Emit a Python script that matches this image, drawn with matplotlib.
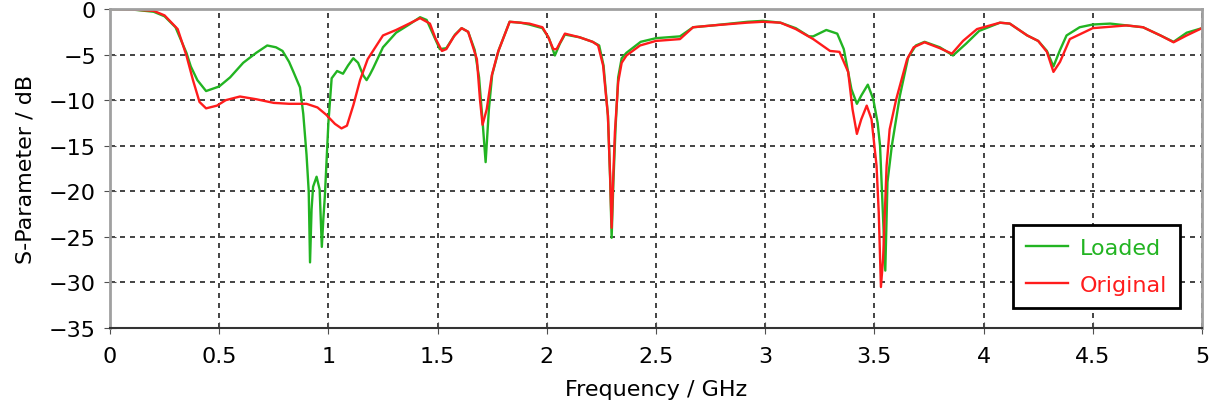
import matplotlib
matplotlib.use("Agg")
import matplotlib.pyplot as plt

# Loaded (green) trace
loaded_f = [0, 0.1, 0.2, 0.25, 0.3, 0.35, 0.37, 0.4, 0.44, 0.5, 0.55, 0.61, 0.67, 0.72,
            0.76, 0.79, 0.82, 0.84, 0.87, 0.885, 0.9, 0.91, 0.916, 0.923, 0.93, 0.946,
            0.96, 0.965, 0.97, 0.977, 0.984, 1.0, 1.015, 1.04, 1.067, 1.09, 1.114, 1.136,
            1.16, 1.175, 1.19, 1.205, 1.25, 1.31, 1.37, 1.42, 1.45, 1.48, 1.51, 1.54,
            1.58, 1.61, 1.64, 1.67, 1.69, 1.705, 1.72, 1.735, 1.75, 1.78, 1.83, 1.88,
            1.92, 1.98, 2.01, 2.037, 2.06, 2.083, 2.15, 2.21, 2.24, 2.26, 2.28, 2.29,
            2.297, 2.305, 2.315, 2.327, 2.343, 2.365, 2.43, 2.5, 2.61, 2.67, 2.76, 2.92,
            2.99, 3.07, 3.14, 3.2, 3.22, 3.28, 3.33, 3.36, 3.395, 3.42, 3.44, 3.47,
            3.495, 3.515, 3.526, 3.54, 3.55, 3.56, 3.58, 3.617, 3.655, 3.69, 3.73, 3.8,
            3.86, 3.92, 3.98, 4.075, 4.12, 4.2, 4.25, 4.29, 4.32, 4.35, 4.38, 4.44,
            4.5, 4.58, 4.655, 4.73, 4.81, 4.87, 4.93, 5.0]
loaded_db = [0, -0.05, -0.3, -0.8, -2.0, -4.8, -6.3, -7.8, -9.0, -8.5, -7.5, -5.9, -4.8, -4.0,
             -4.2, -4.6, -5.8, -6.9, -8.6, -11.5, -16, -20, -27.8, -22, -19.5, -18.4,
             -19.8, -23, -26.1, -23, -20.5, -12.5, -7.6, -6.8, -7.1, -6.2, -5.4, -5.9,
             -7.3, -7.8, -7.2, -6.5, -4.2, -2.6, -1.7, -0.9, -1.2, -2.8, -4.4, -4.3,
             -2.8, -2.1, -2.5, -4.5, -7.5, -12, -16.8, -11, -7.2, -4.5, -1.4, -1.5,
             -1.7, -2.1, -3.2, -5.1, -3.8, -2.8, -3.1, -3.6, -4.0, -6.2, -11.7, -18.5,
             -25.1, -19, -13, -7.5, -5.4, -4.8, -3.6, -3.2, -3.0, -2.0, -1.8, -1.4,
             -1.3, -1.5, -2.1, -3.0, -3.0, -2.3, -2.7, -4.4, -8.8, -10.4, -9.5, -8.3,
             -9.9, -12.5, -15, -23, -28.7, -19, -15, -9.5, -5.3, -4.0, -3.6, -4.2,
             -5.1, -3.8, -2.4, -1.5, -1.6, -2.9, -3.5, -4.6, -6.3, -4.5, -2.9, -2.0,
             -1.7, -1.6, -1.8, -2.0, -2.9, -3.6, -2.6, -2.1]

# Original (red) trace
orig_f = [0, 0.1, 0.2, 0.25, 0.31, 0.35, 0.38, 0.41, 0.44, 0.49, 0.53, 0.595, 0.67, 0.75,
          0.82, 0.9, 0.95, 0.99, 1.03, 1.06, 1.085, 1.115, 1.145, 1.18, 1.25, 1.31, 1.37,
          1.42, 1.465, 1.49, 1.52, 1.54, 1.575, 1.61, 1.64, 1.68, 1.694, 1.706, 1.725,
          1.748, 1.777, 1.83, 1.877, 1.92, 1.98, 2.005, 2.03, 2.045, 2.083, 2.15, 2.21,
          2.235, 2.258, 2.28, 2.29, 2.297, 2.305, 2.312, 2.327, 2.343, 2.365, 2.427, 2.5,
          2.61, 2.67, 2.76, 2.915, 2.99, 3.07, 3.14, 3.22, 3.297, 3.34, 3.38, 3.40, 3.42,
          3.44, 3.465, 3.487, 3.51, 3.52, 3.53, 3.54, 3.556, 3.57, 3.60, 3.65, 3.68,
          3.73, 3.80, 3.855, 3.906, 3.97, 4.075, 4.12, 4.2, 4.25, 4.29, 4.32, 4.35,
          4.395, 4.5, 4.655, 4.73, 4.81, 4.87, 4.93, 5.0]
orig_db = [0, -0.05, -0.2, -0.7, -2.2, -5.1, -7.8, -10.2, -10.9, -10.6, -10.0, -9.6, -9.9, -10.3,
           -10.4, -10.4, -10.8, -11.6, -12.6, -13.1, -12.8, -10.5, -7.8, -5.5, -2.9, -2.3, -1.6,
           -1.0, -1.6, -3.2, -4.6, -4.4, -3.0, -2.1, -2.5, -5.5, -9.9, -12.7, -11.0,
           -7.3, -4.7, -1.4, -1.5, -1.6, -2.0, -3.0, -4.4, -4.4, -2.7, -3.1, -3.6,
           -4.0, -6.2, -11.7, -18.3, -24.0, -18, -13.5, -8.0, -5.9, -5.1, -4.0, -3.5,
           -3.3, -2.0, -1.8, -1.5, -1.4, -1.5, -2.2, -3.3, -4.6, -4.7, -6.9, -11.0, -13.7,
           -12.1, -10.6, -12.1, -17.2, -22.3, -30.5, -27.4, -17.2, -13.2, -9.9, -5.5, -4.2,
           -3.65, -4.3, -4.9, -3.5, -2.2, -1.5, -1.6, -2.9, -3.5, -4.7, -6.9, -5.8,
           -3.3, -2.1, -1.8, -2.0, -2.9, -3.65, -2.9, -2.1]

xticks = [0, 0.5, 1, 1.5, 2, 2.5, 3, 3.5, 4, 4.5, 5]
yticks = [0, -5, -10, -15, -20, -25, -30, -35]

plt.rcParams['font.family'] = 'DejaVu Sans'

fig = plt.figure(figsize=(12.22, 4.14), dpi=100, facecolor='w')
ax = fig.add_axes([0.09, 0.2053, 0.8936, 0.7705])

ax.plot(loaded_f, loaded_db, color='#22b422', lw=1.7, label='Loaded')
ax.plot(orig_f, orig_db, color='#ff1c1c', lw=1.7, label='Original')

ax.set_xlim(0, 5)
ax.set_ylim(-35, 0)
ax.set_xticks(xticks)
ax.set_xticklabels([('%g' % t) for t in xticks])
ax.set_yticks(yticks)
ax.grid(True, color='#222222', ls=(0, (3, 3)), lw=1.2)
for s in ax.spines.values():
    s.set_color('#a0a0a0')
    s.set_linewidth(2)
ax.spines['bottom'].set_color('#333333')
ax.spines['bottom'].set_linewidth(1.5)
ax.tick_params(direction='inout', length=8, color='#505050', labelsize=16)
ax.tick_params(axis='x', pad=9)
ax.tick_params(axis='y', pad=6)
ax.set_xlabel('Frequency / GHz', fontsize=16, labelpad=9)
ax.set_ylabel('S-Parameter / dB', fontsize=16, labelpad=10)

leg = ax.legend(loc='lower right', bbox_to_anchor=(0.98, 0.0625), borderaxespad=0,
                fontsize=16, fancybox=False, framealpha=1, edgecolor='black',
                handlelength=1.9, handletextpad=0.5, borderpad=0.6, labelspacing=0.75)
leg.get_frame().set_linewidth(2)
for t, l in zip(leg.get_texts(), leg.get_lines()):
    t.set_color(l.get_color())

fig.savefig('out.png', dpi=100)
